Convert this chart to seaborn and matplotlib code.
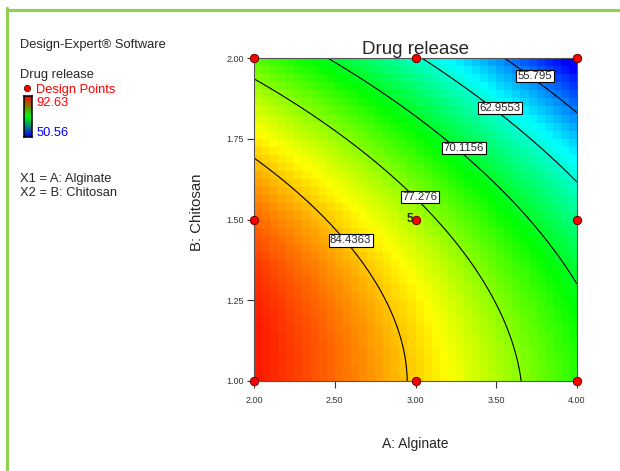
import numpy as np
import matplotlib
matplotlib.use("Agg")
import matplotlib.pyplot as plt
import seaborn as sns
import pandas as pd
from matplotlib.colors import LinearSegmentedColormap
from matplotlib.lines import Line2D

sns.set_style("white")
plt.rcParams['font.family'] = ['Liberation Sans', 'DejaVu Sans']

# ---- data ----
# fitted quadratic response surface in coded units: b0, A, B, AB, A^2, B^2
model_coef = [78.734, -11.147, -10.254, -1.925, -1.538, -5.021]
contour_levels = [55.795, 62.9553, 70.1156, 77.276, 84.4363]
contour_labels = ["55.795", "62.9553", "70.1156", "77.276", "84.4363"]
design_A = [2.0, 3.0, 4.0, 2.0, 3.0, 4.0, 2.0, 3.0, 4.0]
design_B = [1.0, 1.0, 1.0, 1.5, 1.5, 1.5, 2.0, 2.0, 2.0]
center_replicates = 5
response_high = 92.63
response_low = 50.56
x_ticks = [2.0, 2.5, 3.0, 3.5, 4.0]
y_ticks = [1.0, 1.25, 1.5, 1.75, 2.0]

fig = plt.figure(figsize=(6.2, 4.71), dpi=100)
ax = fig.add_axes([254/620, 90/471, 323/620, 323/471])

def model(A, B):
    x = A - 3.0
    y = (B - 1.5) / 0.5
    c = model_coef
    return c[0] + c[1]*x + c[2]*y + c[3]*x*y + c[4]*x**2 + c[5]*y**2

n = 40
ae = np.linspace(2, 4, n+1)
be = np.linspace(1, 2, n+1)
ac = (ae[:-1]+ae[1:])/2
bc = (be[:-1]+be[1:])/2
AA, BB = np.meshgrid(ac, bc)
cmap = LinearSegmentedColormap.from_list("de", ["#0000ff", "#00ffff", "#00ff00", "#ffff00", "#ff0000"])
ax.pcolormesh(ae, be, model(AA, BB), cmap=cmap, vmin=response_low, vmax=response_high,
              shading="flat", rasterized=True)

af = np.linspace(2, 4, 301); bf = np.linspace(1, 2, 301)
AF, BF = np.meshgrid(af, bf)
cs = ax.contour(AF, BF, model(AF, BF), levels=contour_levels, colors="black", linewidths=0.8)
label_pos = [(3.740, 1.944), (3.523, 1.845), (3.300, 1.721), (3.028, 1.570), (2.598, 1.436)]
for lab, (px, py) in zip(contour_labels, label_pos):
    ax.text(px, py, lab, fontsize=8.2, ha="center", va="center", zorder=6,
            bbox=dict(boxstyle="square,pad=0.12", fc="white", ec="black", lw=0.8))

df = pd.DataFrame({"A": design_A, "B": design_B})
sns.scatterplot(data=df, x="A", y="B", ax=ax, color="red", edgecolor="#600000",
                s=36, linewidth=0.7, zorder=10, clip_on=False, legend=False)
ax.text(2.983, 1.5, str(center_replicates), fontsize=8.5, fontweight="bold",
        ha="right", va="center", zorder=11)

ax.set_xlim(2, 4); ax.set_ylim(1, 2)
ax.set_xticks(x_ticks)
ax.set_xticklabels([f"{v:.2f}" for v in x_ticks])
ax.set_yticks(y_ticks)
ax.set_yticklabels([f"{v:.2f}" for v in y_ticks])
ax.tick_params(axis="both", direction="out", length=5, width=0.8, color="#333333",
               labelsize=6.5, labelcolor="#333333", bottom=True, left=True)
ax.tick_params(axis="x", pad=6)
ax.tick_params(axis="y", pad=2)
for s in ax.spines.values():
    s.set_color("#555555"); s.set_linewidth(0.8)
ax.set_xlabel("A: Alginate", fontsize=10)
ax.set_ylabel("B: Chitosan", fontsize=10.8)
ax.xaxis.set_label_coords(0.5, (381-437)/323)
ax.yaxis.set_label_coords((204-254)/323, (381-212.5)/323)
ax.set_title("Drug release", fontsize=13.5, pad=3)

# left-hand legend panel
fs = 9.3
fig.text(20/620, 1-45/471, "Design-Expert® Software", fontsize=fs, va="center")
fig.text(20/620, 1-75/471, "Drug release", fontsize=fs, va="center")
fig.text(36.5/620, 1-90/471, "Design Points", fontsize=fs, color="red", va="center")
fig.add_artist(Line2D([26.5/620], [1-87.5/471], marker="o", ms=4.5, mfc="red", mec="#600000", mew=0.6))
fig.text(36.5/620, 1-103/471, f"{response_high:.2f}", fontsize=fs, color="red", va="center")
fig.text(36.5/620, 1-133/471, f"{response_low:.2f}", fontsize=fs, color="blue", va="center")
cax = fig.add_axes([24/620, 1-137/471, 8/620, 41/471])
grad = LinearSegmentedColormap.from_list("lg", ["#0000ff", "#00ff00", "#ff0000"])
cax.imshow(np.linspace(0, 1, 64)[:, None], aspect="auto", cmap=grad, origin="lower")
cax.set_xticks([]); cax.set_yticks([])
for s in cax.spines.values():
    s.set_color("black"); s.set_linewidth(1.1)
fig.text(20/620, 1-179/471, "X1 = A: Alginate", fontsize=fs, va="center")
fig.text(20/620, 1-193/471, "X2 = B: Chitosan", fontsize=fs, va="center")

# green frame
fig.add_artist(Line2D([6.5/620, 1.0], [1-9.5/471, 1-9.5/471], color="#92d050", lw=2.3))
fig.add_artist(Line2D([6.5/620, 6.5/620], [0, 1-8/471], color="#92d050", lw=2.3))

plt.savefig("out.png", dpi=100)
